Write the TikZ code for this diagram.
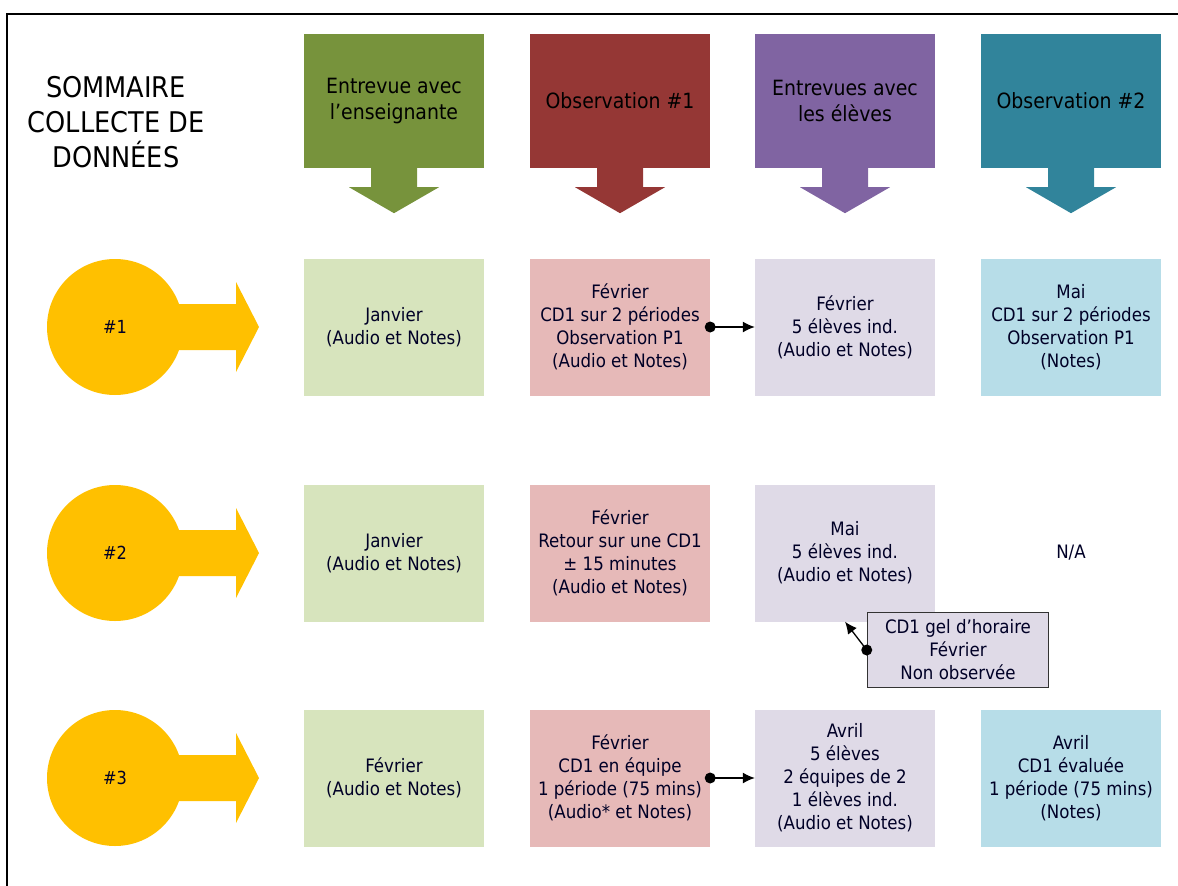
\documentclass[tikz,border=0pt]{standalone}
\usepackage{fontspec}
\setmainfont{DejaVu Sans Condensed}
\usepackage{tikz}
\usetikzlibrary{calc}
\usetikzlibrary{arrows.meta}
\tikzset{>={Latex[length=12,width=11]}}
\usepackage{xcolor}
\definecolor{hgreen}{HTML}{77933C}
\definecolor{hred}{HTML}{953735}
\definecolor{hpurple}{HTML}{8064A2}
\definecolor{hteal}{HTML}{31849B}
\definecolor{lgreen}{HTML}{D7E4BD}
\definecolor{lred}{HTML}{E6B9B8}
\definecolor{lpurple}{HTML}{DFDAE7}
\definecolor{lteal}{HTML}{B7DDE8}
\definecolor{gold}{HTML}{FFC000}
\colorlet{ink}{black!85!blue}
\tikzstyle{head}=[rectangle,minimum width=180,minimum height=134,inner sep=0,align=center,text=black,font=\fontsize{21}{26}\selectfont]
\tikzstyle{cell}=[rectangle,minimum width=180,minimum height=137,inner sep=0,align=center,text=ink,font=\fontsize{18.5}{23}\selectfont]
\tikzstyle{num}=[circle,fill=gold,minimum size=136,inner sep=0,text=ink,font=\fontsize{18}{20}\selectfont]

\begin{document}
\begin{tikzpicture}[x=1pt,y=-1pt]
\useasboundingbox (0,0) rectangle (1178,886);
\draw[line width=2] (7,886) -- (7,14) -- (1178,14);

\node[align=center,font=\fontsize{28.5}{35}\selectfont] (title) at (116,122) {SOMMAIRE\\COLLECTE DE\\DONNÉES};

% en-tetes
\node[head,fill=hgreen] (h1) at (394,101) {Entrevue avec\\l’enseignante};
\node[head,fill=hred] (h2) at (620,101) {Observation \#1};
\node[head,fill=hpurple] (h3) at (845,101) {Entrevues avec\\les élèves};
\node[head,fill=hteal] (h4) at (1071,101) {Observation \#2};
\foreach \h/\c in {h1/hgreen,h2/hred,h3/hpurple,h4/hteal}
  \fill[\c] (\h.south) ++(-23,0) -- ++(0,19) -- ++(-22,0) -- ++(45,26) -- ++(45,-26) -- ++(-22,0) -- ++(0,-19) -- cycle;

% numeros
\foreach \n/\y in {1/327,2/553,3/778}{
  \fill[gold] (170,\y-23) -- (236,\y-23) -- (236,\y-45) -- (259,\y) -- (236,\y+45) -- (236,\y+23) -- (170,\y+23) -- cycle;
  \node[num] (c\n) at (115,\y) {\#\n};
}

% rangee 1
\node[cell,fill=lgreen] (r1a) at (394,327) {Janvier\\(Audio et Notes)};
\node[cell,fill=lred] (r1b) at (620,327) {Février\\CD1 sur 2 périodes\\Observation P1\\(Audio et Notes)};
\node[cell,fill=lpurple] (r1c) at (845,327) {Février\\5 élèves ind.\\(Audio et Notes)};
\node[cell,fill=lteal] (r1d) at (1071,327) {Mai\\CD1 sur 2 périodes\\Observation P1\\(Notes)};

% rangee 2
\node[cell,fill=lgreen] (r2a) at (394,553) {Janvier\\(Audio et Notes)};
\node[cell,fill=lred] (r2b) at (620,553) {Février\\Retour sur une CD1\\± 15 minutes\\(Audio et Notes)};
\node[cell,fill=lpurple] (r2c) at (845,553) {Mai\\5 élèves ind.\\(Audio et Notes)};
\node[cell] (r2d) at (1071,553) {N/A};

% rangee 3
\node[cell,fill=lgreen] (r3a) at (394,778) {Février\\(Audio et Notes)};
\node[cell,fill=lred] (r3b) at (620,778) {Février\\CD1 en équipe\\1 période (75 mins)\\(Audio* et Notes)};
\node[cell,fill=lpurple] (r3c) at (845,778) {Avril\\5 élèves\\2 équipes de 2\\1 élèves ind.\\(Audio et Notes)};
\node[cell,fill=lteal] (r3d) at (1071,778) {Avril\\CD1 évaluée\\1 période (75 mins)\\(Notes)};

\node[cell,draw=black!80,line width=1.5,fill=lpurple,minimum width=181,minimum height=75] (gel) at (958,650) {CD1 gel d’horaire\\Février\\Non observée};

% liens
\draw[->,line width=1.3] (r1b.east) -- (r1c.west);
\fill (r1b.east) circle (5.5);
\draw[->,line width=1.3] (r3b.east) -- (r3c.west);
\fill (r3b.east) circle (5.5);
\draw[->,line width=1.3] (gel.west) -- (r2c.south);
\fill (gel.west) circle (5.5);
\end{tikzpicture}
\end{document}
